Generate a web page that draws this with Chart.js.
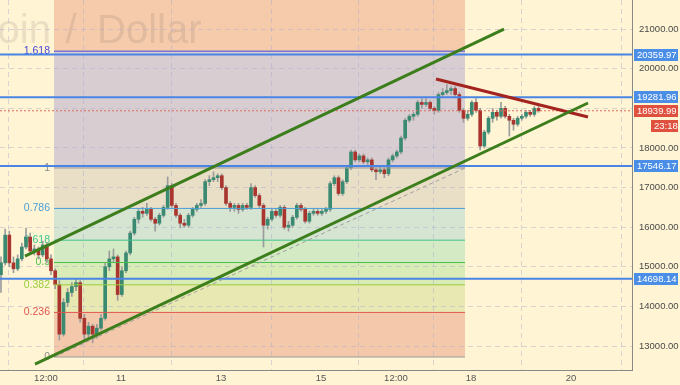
<!DOCTYPE html>
<html>
<head>
<meta charset="utf-8">
<script src="https://cdn.jsdelivr.net/npm/chart.js@4"></script>
<style>
  html, body { margin: 0; padding: 0; background: #fff4d4; }
  canvas { display: block; }
</style>
</head>
<body>
<canvas id="btcChart" width="680" height="385"></canvas>
<script>
// 2h candles, time in days of the month
const candleStart = 8.6;
const candleStep = 1 / 12;

const opens = [
  14800, 15100, 15800, 15100, 14950, 15200, 15500, 15750, 15400, 15450,
  15300, 15550, 15200, 14900, 14550, 13300, 14100, 14350, 14500, 14600,
  13700, 13300, 13500, 13300, 13450, 13700, 15000, 15200, 15250, 14300,
  14900, 15350, 15850, 16200, 16400, 16350, 16450, 16200, 16100, 16300,
  16500, 17050, 16550, 16300, 16100, 16050, 16300, 16450, 16550, 16600,
  17150, 17200, 17250, 17300, 17000, 16600, 16500, 16550, 16450, 16550,
  16500, 17000, 16800, 16550, 16050, 16200, 16400, 16300, 16500, 16000,
  16050, 16250, 16550, 16450, 16150, 16350, 16400, 16350, 16400, 16450,
  17100, 17250, 16850, 17150, 17500, 17900, 17700, 17800, 17650, 17700,
  17450, 17400, 17450, 17350, 17700, 17800, 17900, 18250, 18700, 18800,
  18850, 19150, 19100, 19150, 19000, 18950, 19350, 19400, 19450, 19500,
  19350, 18950, 18750, 18850, 19150, 18950, 18050, 18400, 18750, 18900,
  18800, 19000, 18800, 18700, 18600, 18750, 18800, 18900, 18850, 19000
];
const highs = [
  15250, 15950, 15900, 15250, 15300, 15600, 15980, 15850, 15550, 15500,
  15650, 15600, 15300, 14950, 14650, 14200, 14450, 14600, 14700, 14650,
  13800, 13600, 13550, 13550, 13800, 15100, 15400, 15450, 15300, 15000,
  15400, 15900, 16250, 16450, 16500, 16600, 16500, 16250, 16350, 16550,
  17270, 17100, 16600, 16350, 16200, 16350, 16500, 16600, 16700, 17200,
  17300, 17400, 17350, 17350, 17050, 16650, 16600, 16600, 16600, 16600,
  17100, 17050, 16850, 16600, 16250, 16450, 16450, 16550, 16550, 16150,
  16300, 16600, 16600, 16500, 16400, 16450, 16450, 16450, 16500, 17150,
  17300, 17300, 17200, 17550, 17950, 17950, 17850, 17850, 17750, 17750,
  17500, 17550, 17500, 17750, 17850, 17950, 18300, 18750, 18850, 18900,
  19200, 19250, 19250, 19200, 19050, 19400, 19500, 19600, 19550, 19550,
  19400, 19000, 18950, 19200, 19250, 19000, 18450, 18800, 19000, 18950,
  19150, 19050, 18850, 18750, 18800, 18850, 18950, 18950, 19050, 19050
];
const lows = [
  14350, 15050, 15000, 14850, 14900, 15150, 15450, 15350, 15300, 15200,
  15250, 15100, 14800, 14450, 13150, 13250, 14000, 14250, 14400, 13600,
  13150, 13200, 13080, 13200, 13400, 13650, 14900, 15100, 14150, 14250,
  14850, 15300, 15800, 16100, 16250, 16300, 16150, 15900, 16050, 16250,
  16450, 16500, 16250, 15980, 16000, 16000, 16250, 16400, 16500, 16550,
  17050, 17150, 17150, 16950, 16550, 16400, 16400, 16350, 16400, 16450,
  16450, 16750, 16500, 15500, 15950, 16150, 16250, 16250, 15950, 15900,
  16000, 16200, 16400, 16100, 16100, 16300, 16300, 16300, 16350, 16400,
  17050, 16800, 16800, 17100, 17450, 17650, 17650, 17600, 17550, 17400,
  17200, 17350, 17250, 17300, 17650, 17750, 17850, 18200, 18650, 18700,
  18800, 19000, 19050, 18950, 18850, 18900, 19300, 19350, 19350, 19300,
  18900, 18650, 18700, 18800, 18900, 17950, 18000, 18350, 18650, 18700,
  18750, 18750, 18300, 18450, 18550, 18700, 18750, 18800, 18800, 18900
];
const closes = [
  15100, 15800, 15100, 14950, 15200, 15500, 15750, 15400, 15450, 15300,
  15550, 15200, 14900, 14550, 13300, 14100, 14350, 14500, 14600, 13700,
  13300, 13500, 13300, 13450, 13700, 15000, 15200, 15250, 14300, 14900,
  15350, 15850, 16200, 16400, 16350, 16450, 16200, 16100, 16300, 16500,
  17050, 16550, 16300, 16100, 16050, 16300, 16450, 16550, 16600, 17150,
  17200, 17250, 17300, 17000, 16600, 16500, 16550, 16450, 16550, 16500,
  17000, 16800, 16550, 16050, 16200, 16400, 16300, 16500, 16000, 16050,
  16250, 16550, 16450, 16150, 16350, 16400, 16350, 16400, 16450, 17100,
  17250, 16850, 17150, 17500, 17900, 17700, 17800, 17650, 17700, 17450,
  17400, 17450, 17350, 17700, 17800, 17900, 18250, 18700, 18800, 18850,
  19150, 19100, 19150, 19000, 18950, 19350, 19400, 19450, 19500, 19350,
  18950, 18750, 18850, 19150, 18950, 18050, 18400, 18750, 18900, 18800,
  19000, 18800, 18700, 18600, 18750, 18800, 18900, 18850, 19000, 18940
];

// axes
const xMin = 8.58, xMax = 21.22;
const yMin = 12394, yMax = 21737;
const xTicks = [9.5, 11, 13, 15, 16.5, 18, 20];
const xTickLabels = ['12:00', '11', '13', '15', '12:00', '18', '20'];
const yTicks = [13000, 14000, 15000, 16000, 17000, 18000, 19000, 20000, 21000];

// fibonacci retracement
const fibStart = 9.66, fibEnd = 17.88;
const fibLabels = ['0', '0.236', '0.382', '0.5', '0.618', '0.786', '1', '1.618', '2.618'];
const fibPrices = [12722, 13848, 14545, 15108, 15672, 16474, 17495, 20445, 25218];
const fibLineColors = ['#9a9a9a', '#e0574f', '#9acd3c', '#4cbf4c', '#3cc68e', '#4a9fd6', '#9a9a9a', '#4848d6', '#bbbbbb'];
const fibBandColors = ['#f4c8aa', '#e8e8b2', '#d9ebb6', '#d3eac4', '#d6e4d2', '#e9dfc6', '#d8ced2', '#f5cbab'];

// drawings
const upperChannel = [[9.08, 15272], [18.66, 21004]];
const lowerChannel = [[9.28, 12545], [20.34, 19136]];
const fibDiagonal = [[9.66, 12722], [17.88, 17494]];
const resistanceLine = [[17.3, 19742], [20.34, 18782]];
const hLevels = [20359.97, 19281.96, 17546.17, 14698.14];
const lastPrice = 18939.99;
const countdown = '23:18';

const upColor = '#3a8a72';
const downColor = '#a9352e';

const times = opens.map((_, i) => candleStart + i * candleStep);
const pts = (arr) => arr.map(([x, y]) => ({ x, y }));

const datasets = [];

[upperChannel, lowerChannel].forEach((line) => {
    datasets.push({
        type: 'line',
        data: pts(line),
        borderColor: '#3c7d1c',
        borderWidth: 3,
        pointRadius: 0,
        order: 0,
    });
});
datasets.push({
    type: 'line',
    data: pts(resistanceLine),
    borderColor: '#a3241e',
    borderWidth: 3,
    pointRadius: 0,
    order: 0,
});
datasets.push({
    type: 'line',
    data: pts(fibDiagonal),
    borderColor: '#a0a0a0',
    borderWidth: 1,
    borderDash: [4, 3],
    pointRadius: 0,
    order: 1,
});
hLevels.forEach((p) => {
    datasets.push({
        type: 'line',
        data: [{ x: xMin, y: p }, { x: xMax, y: p }],
        borderColor: '#4a84e4',
        borderWidth: 2,
        pointRadius: 0,
        order: 1,
    });
});
datasets.push({
    type: 'line',
    data: [{ x: xMin, y: lastPrice }, { x: xMax, y: lastPrice }],
    borderColor: '#e06a5a',
    borderWidth: 1,
    borderDash: [2, 2],
    pointRadius: 0,
    order: 1,
});
fibPrices.slice(0, 8).forEach((p, i) => {
    datasets.push({
        type: 'line',
        data: [{ x: fibStart, y: p }, { x: fibEnd, y: p }],
        borderColor: fibLineColors[i],
        borderWidth: 1,
        pointRadius: 0,
        order: 2,
    });
});
// candle bodies
datasets.push({
    type: 'bar',
    data: times.map((t, i) => ({ x: t, y: [opens[i], closes[i]] })),
    backgroundColor: closes.map((c, i) => (c >= opens[i] ? upColor : downColor)),
    barThickness: 3,
    grouped: false,
    minBarLength: 1,
    order: 3,
});
// wicks
datasets.push({
    type: 'bar',
    data: times.map((t, i) => ({ x: t, y: [lows[i], highs[i]] })),
    backgroundColor: '#9c9c9c',
    barThickness: 1,
    grouped: false,
    order: 4,
});

const FONT = 'Liberation Sans, Arial, sans-serif';

const decor = {
    id: 'decor',
    beforeDraw(chart) {
        const { ctx, chartArea: a, scales: { x, y } } = chart;
        ctx.save();
        ctx.fillStyle = '#fff4d4';
        ctx.fillRect(0, 0, chart.width, chart.height);
        ctx.beginPath();
        ctx.rect(a.left, a.top, a.right - a.left, a.bottom - a.top);
        ctx.clip();
        const x0 = x.getPixelForValue(fibStart);
        const x1 = x.getPixelForValue(fibEnd);
        for (let i = 0; i < fibBandColors.length; i++) {
            const yA = y.getPixelForValue(fibPrices[i]);
            const yB = y.getPixelForValue(fibPrices[i + 1]);
            ctx.fillStyle = fibBandColors[i];
            ctx.fillRect(x0, yB, x1 - x0, yA - yB);
        }
        // symbol watermark, spread out like the terminal draws it
        ctx.font = '40px ' + FONT;
        ctx.fillStyle = 'rgba(110, 95, 95, 0.14)';
        ctx.textBaseline = 'alphabetic';
        ctx.textAlign = 'right';
        ctx.fillText('Bitcoin', 51, 43);
        ctx.textAlign = 'center';
        ctx.fillText('/', 71, 43);
        ctx.textAlign = 'left';
        ctx.fillText('Dollar', 97, 43);
        ctx.restore();
    },
    beforeDatasetsDraw(chart) {
        const { ctx, scales: { x, y } } = chart;
        ctx.save();
        ctx.font = '10.5px ' + FONT;
        ctx.textAlign = 'right';
        ctx.textBaseline = 'middle';
        const lx = x.getPixelForValue(fibStart) - 4;
        fibLabels.slice(0, 8).forEach((lab, i) => {
            ctx.fillStyle = fibLineColors[i] === '#9a9a9a' ? '#8a8a8a' : fibLineColors[i];
            ctx.fillText(lab, lx, y.getPixelForValue(fibPrices[i]));
        });
        ctx.restore();
    },
    afterDraw(chart) {
        const { ctx, chartArea: a, scales: { y } } = chart;
        ctx.save();
        ctx.font = '9.5px ' + FONT;
        ctx.textBaseline = 'middle';
        ctx.textAlign = 'left';
        const box = (py, color, text, bx) => {
            ctx.fillStyle = color;
            ctx.fillRect(bx, Math.round(py) - 6, chart.width - bx - 2, 12);
            ctx.fillStyle = '#ffffff';
            ctx.fillText(text, bx + 3, py + 0.5);
        };
        hLevels.forEach((p) => box(y.getPixelForValue(p), '#4a8ee8', p.toFixed(2), a.right + 2));
        const lp = y.getPixelForValue(lastPrice);
        box(lp, '#e0503e', lastPrice.toFixed(2), a.right + 2);
        box(lp + 15, '#e0503e', countdown, a.right + 19);
        ctx.restore();
    },
};

const gridOpts = {
    color: 'rgba(170, 170, 205, 0.45)',
    drawTicks: false,
    lineWidth: 1,
};
const borderOpts = { display: true, color: '#888888', width: 1, dash: [5, 4] };

new Chart(document.getElementById('btcChart'), {
    type: 'bar',
    data: { datasets },
    options: {
        responsive: false,
        animation: false,
        devicePixelRatio: 1,
        layout: { padding: 0 },
        plugins: {
            legend: { display: false },
            tooltip: { enabled: false },
        },
        scales: {
            x: {
                type: 'linear',
                position: 'bottom',
                min: xMin,
                max: xMax,
                offset: false,
                afterFit: (s) => {
                    s.height = 15;
                    s.paddingLeft = 0;
                    s.paddingRight = 0;
                },
                afterBuildTicks: (s) => { s.ticks = xTicks.map((v) => ({ value: v })); },
                grid: gridOpts,
                border: borderOpts,
                ticks: {
                    font: { family: FONT, size: 9.5 },
                    color: '#555555',
                    padding: 3,
                    maxRotation: 0,
                    autoSkip: false,
                    callback: (v) => {
                        const k = xTicks.indexOf(v);
                        return k >= 0 ? xTickLabels[k] : '';
                    },
                },
            },
            y: {
                type: 'linear',
                position: 'right',
                min: yMin,
                max: yMax,
                afterFit: (s) => {
                    s.width = 48;
                    s.paddingTop = 0;
                    s.paddingBottom = 0;
                },
                afterBuildTicks: (s) => { s.ticks = yTicks.map((v) => ({ value: v })); },
                grid: gridOpts,
                border: borderOpts,
                ticks: {
                    font: { family: FONT, size: 9.5 },
                    color: '#4a4a4a',
                    padding: 7,
                    callback: (v) => Number(v).toFixed(2),
                },
            },
        },
    },
    plugins: [decor],
});
</script>
</body>
</html>
